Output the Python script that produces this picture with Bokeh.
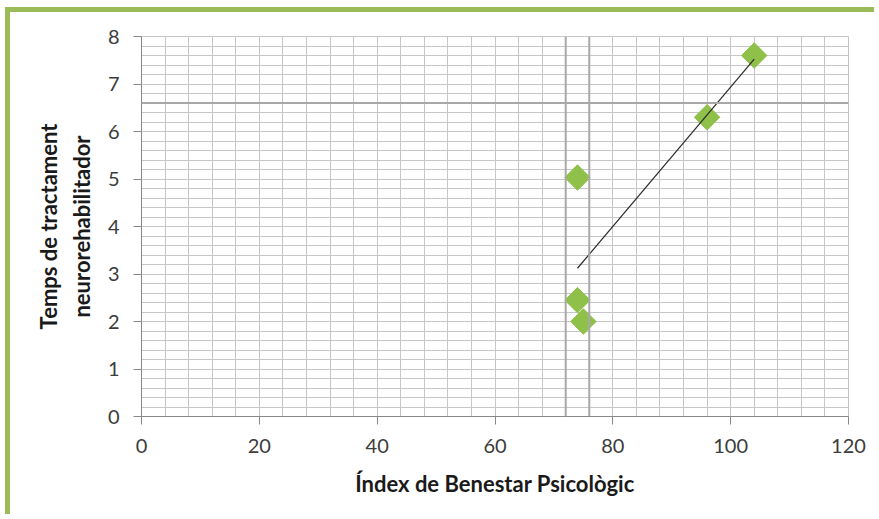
import numpy as np
from bokeh.plotting import figure
from bokeh.models import Range1d, FixedTicker, Span
from bokeh.embed import file_html
from bokeh.resources import INLINE

# Psychological wellbeing index vs. neurorehabilitation treatment time
benestar = [74, 74, 75, 96, 104]
temps = [5.03, 2.45, 2.0, 6.3, 7.6]

x_major = [0, 20, 40, 60, 80, 100, 120]
y_major = [0, 1, 2, 3, 4, 5, 6, 7, 8]

GREEN = "#9BBB59"
MARK = "#8fc04a"
GRID = "#c6c6c6"

p = figure(width=869, height=507, output_backend="svg", toolbar_location=None,
           x_range=Range1d(0, 120), y_range=Range1d(0, 8),
           min_border_left=131, min_border_right=31, min_border_top=24,
           min_border_bottom=103, background_fill_color="white",
           border_fill_color="white", outline_line_color=GRID)

p.styles = {"border-top": f"5px solid {GREEN}", "border-left": f"5px solid {GREEN}",
            "margin-top": "7px", "margin-left": "5px"}

p.xaxis.ticker = FixedTicker(ticks=x_major, minor_ticks=list(range(0, 121, 4)))
p.yaxis.ticker = FixedTicker(ticks=y_major,
                             minor_ticks=[round(v * 0.2, 1) for v in range(41)])

for ax in (p.xaxis, p.yaxis):
    ax.axis_line_color = "#888888"
    ax.major_tick_line_color = "#888888"
    ax.major_tick_in = 0
    ax.major_tick_out = 8
    ax.minor_tick_in = 0
    ax.minor_tick_out = 0
    ax.major_label_text_font = "Lato"
    ax.major_label_text_font_size = "20px"
    ax.major_label_text_color = "#3c3c3c"
    ax.major_label_standoff = 14
    ax.axis_label_text_font = "Lato"
    ax.axis_label_text_font_style = "bold"
    ax.axis_label_text_font_size = "22px"
    ax.axis_label_text_color = "#1a1a1a"

p.xaxis.axis_label = "Índex de Benestar Psicològic"
p.xaxis.axis_label_standoff = 14
p.yaxis.axis_label = "Temps de tractament\nneurorehabilitador"
p.yaxis.axis_label_standoff = 10

for g in (p.xgrid, p.ygrid):
    g.grid_line_color = GRID
    g.minor_grid_line_color = GRID
    g.grid_line_width = 1
    g.minor_grid_line_width = 1

# darker reference lines across the grid
for loc in (72, 76):
    p.add_layout(Span(location=loc, dimension="height", line_color="#a8a8a8", line_width=2))
p.add_layout(Span(location=6.6, dimension="width", line_color="#a8a8a8", line_width=2))

p.scatter(benestar, temps, marker="square", angle=np.pi / 4, size=18,
          fill_color=MARK, line_color=MARK, line_width=1)

# linear trend line (least squares) over the data span
slope, intercept = np.polyfit(benestar, temps, 1)
tx = [min(benestar), max(benestar)]
ty = [slope * v + intercept for v in tx]
p.line(tx, ty, line_color="#2a2a2a", line_width=1.2)

open("out.html", "w").write(file_html(p, INLINE))
